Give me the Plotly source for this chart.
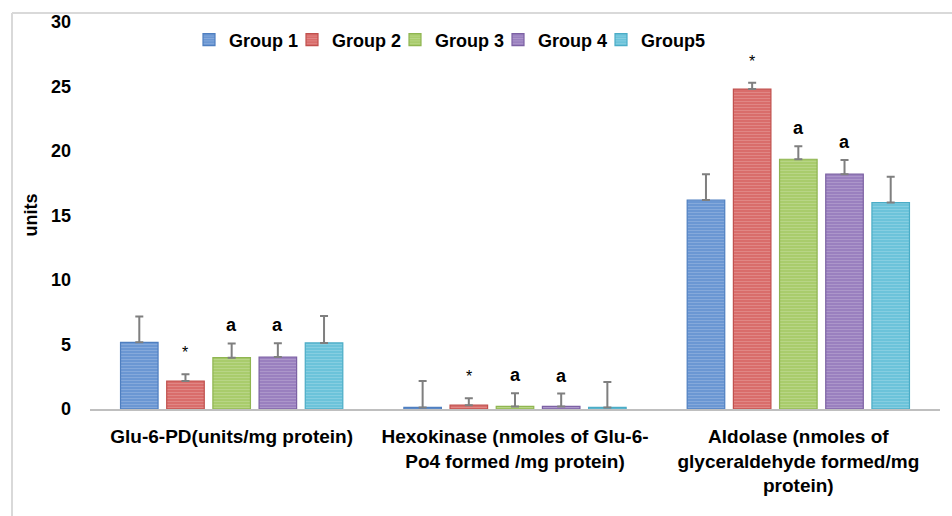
import plotly.graph_objects as go

categories = ["Glu-6-PD(units/mg protein)",
              "Hexokinase (nmoles of Glu-6-<br>Po4 formed /mg protein)",
              "Aldolase (nmoles of<br>glyceraldehyde formed/mg<br>protein)"]
groups = ["Group 1", "Group 2", "Group 3", "Group 4", "Group5"]

g1 = [5.17, 0.12, 16.2]
g2 = [2.17, 0.30, 24.8]
g3 = [3.98, 0.20, 19.36]
g4 = [4.03, 0.20, 18.2]
g5 = [5.12, 0.12, 16.0]

e1 = [2.0, 2.05, 2.0]
e2 = [0.52, 0.53, 0.5]
e3 = [1.1, 1.02, 1.0]
e4 = [1.06, 1.0, 1.1]
e5 = [2.08, 1.97, 2.0]

marks2 = ["*", "*", "*"]
marks3 = ["a", "a", "a"]
marks4 = ["a", "a", "a"]

yticks = [0, 5, 10, 15, 20, 25, 30]

values = [g1, g2, g3, g4, g5]
errors = [e1, e2, e3, e4, e5]
marks = [None, marks2, marks3, marks4, None]

fill = ["#6b97d3", "#d96d6b", "#a9cc6c", "#9a80bf", "#6cc3da"]
edge = ["#4f7fc0", "#c0504d", "#8fb551", "#7c61a3", "#4bacc6"]

FONT = "Liberation Sans, Arial, sans-serif"
BARGAP, GROUPGAP = 0.185, 0.187

# plot geometry
L, R, T, B = 90, 12, 22, 107
W = 952 - L - R
H = 516 - T - B
slot_px = W / 3 * (1 - BARGAP) / 5

# legend entry left edges (pixels) – one legend box per group
legend_left_px = [189, 292, 395, 498, 601]
legend_ids = ["legend", "legend2", "legend3", "legend4", "legend5"]

fig = go.Figure()
for i, g in enumerate(groups):
    fig.add_trace(go.Bar(
        x=categories, y=values[i], name="<b>" + g + "</b>", legend=legend_ids[i],
        marker=dict(color=fill[i], line=dict(color=edge[i], width=1.2),
                    pattern=dict(shape="-", size=3, solidity=0.35,
                                 fgcolor="rgba(255,255,255,0.35)", fillmode="overlay")),
        error_y=dict(type="data", array=errors[i], visible=True, symmetric=False,
                     arrayminus=[0, 0, 0], color="#7f7f7f", thickness=2, width=4),
    ))

annotations = []
for i in range(5):
    if marks[i] is None:
        continue
    for j, c in enumerate(categories):
        m = marks[i][j]
        annotations.append(dict(
            x=c, y=values[i][j] + errors[i][j], xref="x", yref="y",
            text=("<b>a</b>" if m == "a" else m), showarrow=False,
            xshift=(i - 2) * slot_px, yanchor="bottom", yshift=(6 if m == "a" else 11),
            font=dict(family=FONT, size=18 if m == "a" else 16, color="#000000")))

annotations.append(dict(text="<b>units</b>", x=(30 - L) / W, y=0.5, xref="paper", yref="paper",
                        xanchor="center", yanchor="middle",
                        textangle=-90, showarrow=False,
                        font=dict(family=FONT, size=18, color="#000000")))

bx = (12 - L) / W
by = (409 - 13) / H
shapes = [
    dict(type="line", xref="paper", yref="paper", x0=bx, x1=(952 - L) / W, y0=by, y1=by,
         line=dict(color="#d9d9d9", width=2)),
    dict(type="line", xref="paper", yref="paper", x0=bx, x1=bx, y0=by, y1=-B / H,
         line=dict(color="#d9d9d9", width=2)),
]

legend_layout = {}
for i, lid in enumerate(legend_ids):
    legend_layout[lid] = dict(
        orientation="h", x=(legend_left_px[i] - L) / W, xanchor="left",
        y=(409 - 40) / H, yanchor="middle",
        font=dict(family=FONT, size=18, color="#000000"),
        itemwidth=30, bgcolor="rgba(0,0,0,0)")

fig.update_layout(
    width=952, height=516,
    margin=dict(l=L, r=R, t=T, b=B, autoexpand=False),
    paper_bgcolor="white", plot_bgcolor="white",
    barmode="group", bargap=BARGAP, bargroupgap=GROUPGAP,
    font=dict(family=FONT, size=18, color="#000000"),
    showlegend=True,
    annotations=annotations,
    shapes=shapes,
    xaxis=dict(showline=True, linecolor="#bfbfbf", linewidth=2, showgrid=False,
               ticks="", tickfont=dict(family=FONT, size=19, color="#000000"),
               ticklabelstandoff=9, automargin=False,
               tickvals=categories, ticktext=["<b>" + c + "</b>" for c in categories]),
    yaxis=dict(range=[0, 30], showgrid=False, zeroline=False, showline=False,
               ticks="", ticklabelstandoff=18, automargin=False,
               tickfont=dict(family=FONT, size=18, color="#000000"),
               tickvals=yticks, ticktext=["<b>%d</b>" % v for v in yticks]),
    **legend_layout,
)

fig.write_html("out.html", config={"displayModeBar": False},
               post_script="document.body.style.margin='0';")
